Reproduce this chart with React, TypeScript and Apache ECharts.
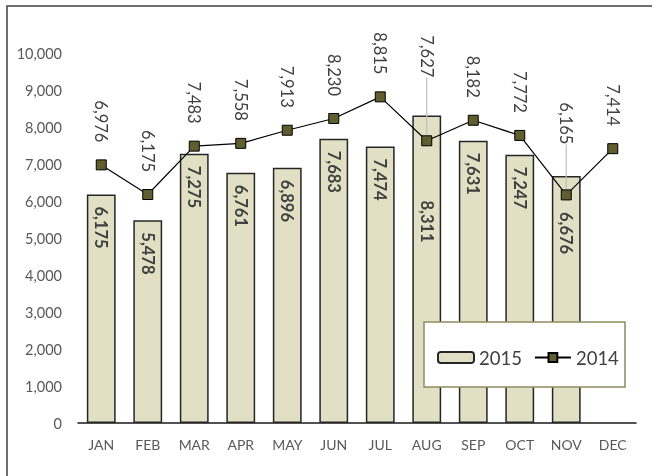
import React, { useEffect, useRef } from "react";
import * as echarts from "echarts";

const months = ["JAN", "FEB", "MAR", "APR", "MAY", "JUN", "JUL", "AUG", "SEP", "OCT", "NOV", "DEC"];
const values2015: (number | null)[] = [6175, 5478, 7275, 6761, 6896, 7683, 7474, 8311, 7631, 7247, 6676, null];
const values2014: number[] = [6976, 6175, 7483, 7558, 7913, 8230, 8815, 7627, 8182, 7772, 6165, 7414];
const yTicks = { min: 0, max: 10000, interval: 1000 };
// line labels that sit farther from their point, joined to it by a leader line (extra distance, px)
const movedLineLabels: Record<number, number> = { 7: 41, 10: 28 };
// bar labels pushed down inside the bar (distance from bar top, px)
const movedBarLabels: Record<number, number> = { 7: 85, 10: 36 };

const FONT = "Lato, 'Noto Sans', sans-serif";
const LINE_LABEL_DISTANCE = 17;
const BAR_LABEL_DISTANCE = 12;

export default function App() {
  const ref = useRef<HTMLDivElement>(null);
  useEffect(() => {
    if (!ref.current) return;
    const chart = echarts.init(ref.current, undefined, { renderer: "svg" });
    const lineData = values2014.map((v, i) =>
      movedLineLabels[i]
        ? {
            value: v,
            label: { distance: LINE_LABEL_DISTANCE + movedLineLabels[i] },
            labelLine: { show: true, lineStyle: { color: "#bfbfbf", width: 1.2 } },
          }
        : v
    );
    const barData = values2015.map((v, i) =>
      movedBarLabels[i] ? { value: v, label: { distance: movedBarLabels[i] } } : v
    );
    chart.setOption({
      animation: false,
      textStyle: { fontFamily: FONT },
      grid: { left: 78, right: 16, top: 53, bottom: 53 },
      graphic: [
        {
          type: "rect",
          shape: { x: 7, y: 6, width: 700, height: 520 },
          style: { fill: "none", stroke: "#404040", lineWidth: 1.5 },
          silent: true,
        },
        {
          type: "rect",
          z: 10,
          shape: { x: 424, y: 322, width: 201, height: 65 },
          style: { fill: "#ffffff", stroke: "#8e8c60", lineWidth: 1.5 },
          silent: true,
        },
      ],
      legend: {
        z: 20,
        left: 432,
        top: 343,
        itemWidth: 36,
        itemHeight: 11,
        itemGap: 12,
        textStyle: { fontFamily: FONT, fontSize: 18.5, color: "#404040" },
        data: [{ name: "2015" }, { name: "2014" }],
      },
      xAxis: {
        type: "category",
        data: months,
        axisLine: { show: true, lineStyle: { color: "#1a1a1a", width: 1.5 } },
        axisTick: { show: false },
        axisLabel: { color: "#595959", fontSize: 14, fontFamily: FONT, margin: 14 },
      },
      yAxis: {
        type: "value",
        min: yTicks.min,
        max: yTicks.max,
        interval: yTicks.interval,
        splitLine: { show: false },
        axisLine: { show: false },
        axisTick: { show: false },
        axisLabel: {
          color: "#595959",
          fontSize: 14.5,
          fontFamily: FONT,
          margin: 16,
          formatter: (v: number) => v.toLocaleString("en-US"),
        },
      },
      series: [
        {
          name: "2015",
          type: "bar",
          data: barData,
          barWidth: "62%",
          itemStyle: { color: "#e1e0c4", borderColor: "#262626", borderWidth: 1.5 },
          label: {
            show: true,
            position: "insideTop",
            distance: BAR_LABEL_DISTANCE,
            rotate: -90,
            align: "left",
            verticalAlign: "middle",
            fontFamily: FONT,
            fontWeight: "bold",
            fontSize: 16.5,
            color: "#404040",
            formatter: (p: any) => (p.value == null ? "" : Number(p.value).toLocaleString("en-US")),
          },
        },
        {
          name: "2014",
          type: "line",
          data: lineData,
          z: 5,
          symbol: "rect",
          symbolSize: 10,
          lineStyle: { color: "#000000", width: 1.2 },
          itemStyle: { color: "#605d2e", borderColor: "#000000", borderWidth: 1 },
          label: {
            show: true,
            position: "top",
            distance: LINE_LABEL_DISTANCE,
            rotate: -90,
            align: "right",
            verticalAlign: "middle",
            fontFamily: FONT,
            fontSize: 16.5,
            color: "#404040",
            formatter: (p: any) => Number(p.value).toLocaleString("en-US"),
          },
          labelLine: { show: false },
        },
      ],
    });
    return () => chart.dispose();
  }, []);
  return (
    <div
      ref={ref}
      style={{ position: "fixed", left: 0, top: 0, width: 652, height: 476 }}
    />
  );
}
